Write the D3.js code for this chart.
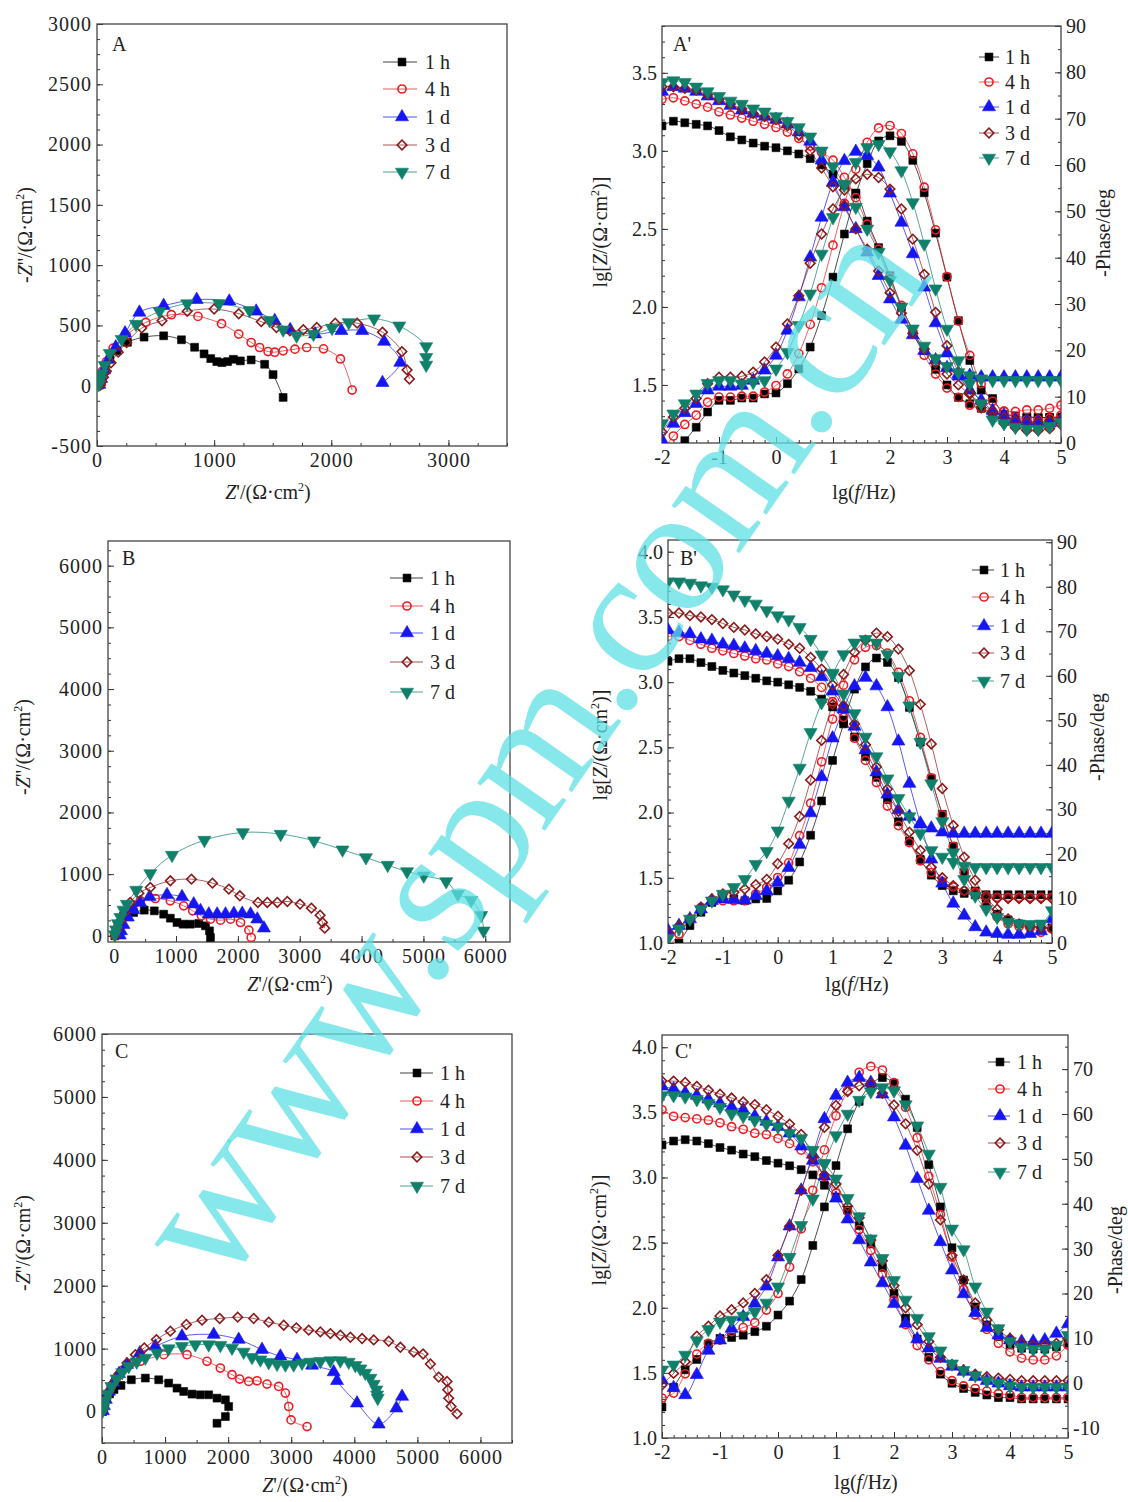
<!DOCTYPE html>
<html>
<head>
<meta charset="utf-8">
<script src="https://cdn.jsdelivr.net/npm/d3@7"></script>
<style>
  body { margin: 0; background: #fff; }
  text { font-family: "Liberation Serif", "DejaVu Serif", serif; fill: #222; }
</style>
</head>
<body>
<svg id="root" width="1128" height="1502"></svg>
<script>
// series shared by all six panels
const series = ["1 h", "4 h", "1 d", "3 d", "7 d"];
const colors = ["#000000", "#ee1c24", "#1616f2", "#8b1a1a", "#10806b"];

// log frequency grid of the Bode plots
const lgF = [-2,-1.8,-1.6,-1.4,-1.2,-1,-0.8,-0.6,-0.4,-0.2,0,0.2,0.4,0.6,0.8,1,1.2,1.4,1.6,1.8,2,2.2,2.4,2.6,2.8,3,3.2,3.4,3.6,3.8,4,4.2,4.4,4.6,4.8,5];

// Nyquist A  [Z', -Z'']
const nyqA = [
  [[20,5],[30,40],[45,90],[70,150],[110,220],[170,290],[260,360],[402,403],[569,414],[721,381],[833,319],[914,264],[971,225],[1023,200],[1066,192],[1115,200],[1164,219],[1224,206],[1316,214],[1431,178],[1503,92],[1589,-97]],
  [[15,10],[25,60],[45,120],[80,200],[138,311],[250,420],[417,525],[635,589],[862,575],[1063,514],[1210,428],[1316,358],[1388,317],[1460,283],[1517,278],[1589,289],[1690,303],[1790,317],[1934,306],[2078,222],[2178,-36]],
  [[20,10],[35,60],[60,130],[100,220],[160,320],[239,436],[362,608],[569,664],[851,714],[1129,700],[1359,617],[1517,539],[1649,464],[1862,428],[2086,456],[2264,456],[2451,367],[2589,192],[2437,25]],
  [[30,5],[40,30],[55,70],[80,120],[120,190],[181,278],[253,358],[382,478],[555,539],[770,617],[1000,636],[1210,597],[1402,531],[1532,483],[1647,456],[1761,464],[1876,483],[2034,519],[2221,519],[2437,444],[2603,283],[2647,131],[2667,56]],
  [[15,10],[25,50],[40,100],[65,170],[109,269],[210,386],[333,511],[534,617],[770,681],[1043,681],[1302,625],[1474,542],[1589,464],[1704,414],[1848,428],[2006,478],[2149,525],[2365,556],[2580,497],[2810,325],[2810,236],[2810,172]]
];

// Nyquist B
const nyqB = [
  [[10,0],[30,60],[60,150],[120,250],[200,330],[314,378],[486,416],[649,405],[800,351],[908,286],[1016,216],[1114,189],[1232,189],[1368,200],[1476,162],[1541,81],[1557,-27]],
  [[10,10],[30,80],[70,180],[130,300],[220,420],[310,500],[422,568],[665,605],[908,568],[1124,486],[1270,405],[1411,324],[1557,270],[1719,254],[1881,270],[2043,216],[2178,92],[2216,-27]],
  [[90,10],[110,80],[150,180],[220,300],[310,420],[420,540],[573,632],[854,665],[1097,632],[1286,514],[1395,405],[1530,351],[1665,351],[1800,351],[1935,362],[2070,362],[2205,351],[2314,270],[2422,124]],
  [[20,10],[50,110],[100,240],[170,380],[259,540],[400,690],[584,784],[908,892],[1249,919],[1589,854],[1854,757],[2032,649],[2324,541],[2476,541],[2638,541],[2800,557],[3005,514],[3189,449],[3330,335],[3368,216],[3405,124]],
  [[10,20],[30,100],[60,200],[100,300],[150,420],[205,514],[357,741],[584,1011],[935,1308],[1459,1551],[2081,1676],[2692,1649],[3232,1541],[3692,1395],[4070,1270],[4422,1146],[4735,1043],[5005,973],[5368,881],[5557,676],[5773,578],[5935,335],[5973,81]]
];

// Nyquist C
const nyqC = [
  [[10,0],[20,60],[40,130],[70,200],[120,280],[190,350],[301,415],[465,505],[687,532],[899,505],[1057,452],[1189,372],[1295,319],[1427,277],[1559,266],[1691,266],[1823,213],[1956,186],[2008,80],[1956,-80],[1823,-186]],
  [[10,10],[25,80],[50,170],[90,280],[150,400],[230,530],[330,660],[450,760],[608,798],[978,904],[1348,904],[1665,798],[1876,691],[2061,585],[2183,516],[2326,479],[2458,489],[2616,436],[2801,399],[2907,293],[2960,80],[2997,-133],[3251,-239]],
  [[15,10],[30,90],[60,190],[110,320],[180,460],[270,600],[396,745],[600,930],[846,1037],[1268,1197],[1771,1223],[2167,1144],[2537,984],[2828,878],[3092,824],[3330,734],[3673,628],[3726,489],[4043,133],[4387,-202],[4667,53],[4757,239]],
  [[10,10],[30,100],[60,200],[110,320],[180,450],[270,600],[396,771],[529,904],[671,1011],[862,1144],[1084,1277],[1337,1383],[1586,1452],[1866,1479],[2151,1500],[2405,1479],[2643,1420],[2881,1372],[3081,1330],[3277,1293],[3462,1266],[3621,1239],[3779,1213],[3938,1181],[4123,1160],[4308,1138],[4545,1117],[4730,1021],[4942,947],[5090,915],[5206,755],[5338,548],[5470,479],[5481,346],[5497,213],[5534,80],[5629,-37]],
  [[10,10],[25,80],[50,170],[90,280],[150,400],[230,520],[320,620],[423,718],[550,790],[687,851],[872,931],[1057,1000],[1268,1037],[1480,1064],[1691,1064],[1876,1053],[2061,1011],[2246,947],[2378,862],[2511,824],[2643,782],[2775,755],[2907,745],[3039,745],[3171,771],[3303,787],[3462,798],[3620,809],[3779,809],[3911,787],[4017,734],[4096,681],[4175,612],[4255,532],[4308,436],[4350,346],[4361,266],[4371,213]]
];

// Bode A'  lg|Z| and -phase
const modA = [
  [3.16,3.19,3.18,3.17,3.16,3.13,3.09,3.07,3.05,3.03,3.02,3.00,2.98,2.95,2.91,2.85,2.78,2.73,2.55,2.38,2.20,2.00,1.85,1.72,1.60,1.50,1.42,1.38,1.35,1.32,1.31,1.30,1.29,1.29,1.29,1.29],
  [3.33,3.34,3.32,3.30,3.28,3.25,3.23,3.21,3.19,3.17,3.15,3.12,3.08,3.03,2.99,2.94,2.83,2.70,2.53,2.37,2.19,2.01,1.84,1.69,1.57,1.48,1.42,1.37,1.35,1.33,1.33,1.33,1.34,1.34,1.35,1.37],
  [3.38,3.41,3.40,3.38,3.35,3.32,3.29,3.26,3.24,3.22,3.20,3.17,3.12,3.06,2.94,2.80,2.64,2.50,2.35,2.20,2.05,1.92,1.82,1.72,1.66,1.61,1.57,1.56,1.55,1.55,1.55,1.55,1.55,1.55,1.55,1.55],
  [3.41,3.41,3.40,3.39,3.36,3.33,3.30,3.27,3.24,3.22,3.20,3.16,3.10,3.00,2.89,2.77,2.65,2.50,2.37,2.23,2.09,1.96,1.83,1.73,1.64,1.57,1.50,1.44,1.38,1.33,1.29,1.27,1.26,1.26,1.27,1.28],
  [3.44,3.45,3.44,3.41,3.38,3.35,3.32,3.30,3.27,3.25,3.22,3.19,3.15,3.09,3.00,2.90,2.78,2.64,2.50,2.35,2.17,2.00,1.86,1.75,1.67,1.62,1.58,1.56,1.54,1.53,1.53,1.53,1.53,1.53,1.53,1.53]
];
const phA = [
  [-6,-3,0.5,3.4,6.7,9.2,9.2,9.7,9.7,10.6,10.8,12.8,16,20.7,27.5,35.8,45.1,53.7,60.3,65.2,66.3,65.1,61,54,45.3,35.8,26.4,17.8,11.4,9.6,6,4.9,5.6,5.5,5.5,5.6],
  [-2,1.5,4,6,8.8,9.9,9.9,10.1,10.1,11,12.4,14.9,19.3,25.6,33.5,42.7,51.7,59.1,64.9,68,68.5,66.8,62.4,55.2,46,35.9,26.3,18.9,12.8,9,6.9,5.6,5,5,5.3,6],
  [0.6,4.2,6.5,8.5,11.4,12.2,12.2,12.4,13.5,15.7,18.9,24.3,31.5,40.1,48.7,56.2,60.9,62.9,62,59.5,53.9,47.6,40.8,33.6,25.9,19.4,14.4,11.4,9.2,7,6,5,4.7,4.5,4.3,5],
  [2.4,5.6,7.5,9.6,12.8,14.2,14.2,14.4,15.3,17.5,20.7,25.7,31.8,38.8,45.1,50.5,54.6,57,58,57.3,54.8,50.5,44,36.4,28.2,21,15.3,10.8,7.6,5.7,4.2,3.3,2.7,2.7,3.1,4],
  [4.2,6.3,8.5,10.6,12.9,13.5,13.5,12.8,13.1,13.5,16,19.6,25.4,32.2,40.8,48.7,55.9,60.6,63.8,64.5,62.9,58.8,51.9,43,33.3,24.6,17.8,12.8,8.5,5,4.2,3.4,3,3,3.6,4.5]
];

// Bode B'
const modB = [
  [3.16,3.18,3.18,3.15,3.12,3.09,3.07,3.05,3.03,3.01,3.00,2.98,2.96,2.93,2.87,2.81,2.71,2.58,2.43,2.27,2.10,1.93,1.78,1.64,1.52,1.44,1.40,1.38,1.37,1.37,1.37,1.37,1.37,1.37,1.37,1.37],
  [3.35,3.35,3.32,3.29,3.26,3.24,3.22,3.20,3.18,3.17,3.14,3.12,3.08,3.03,2.96,2.85,2.73,2.57,2.40,2.23,2.05,1.90,1.77,1.63,1.54,1.47,1.43,1.40,1.38,1.36,1.35,1.35,1.35,1.35,1.35,1.35],
  [3.40,3.38,3.37,3.33,3.32,3.29,3.28,3.26,3.24,3.22,3.20,3.18,3.15,3.11,3.04,2.93,2.81,2.66,2.48,2.31,2.14,2.02,1.97,1.91,1.88,1.85,1.84,1.84,1.84,1.84,1.84,1.84,1.84,1.84,1.84,1.84],
  [3.53,3.53,3.51,3.50,3.48,3.45,3.42,3.40,3.37,3.35,3.33,3.29,3.26,3.19,3.10,2.98,2.82,2.68,2.52,2.35,2.18,2.01,1.85,1.71,1.58,1.50,1.44,1.40,1.38,1.36,1.34,1.34,1.34,1.34,1.34,1.34],
  [3.77,3.77,3.76,3.74,3.73,3.71,3.67,3.63,3.60,3.55,3.51,3.48,3.42,3.33,3.21,3.07,2.91,2.76,2.58,2.43,2.26,2.11,1.97,1.84,1.71,1.66,1.62,1.59,1.58,1.58,1.58,1.58,1.58,1.58,1.58,1.58]
];
const phB = [
  [-3,0,3.9,6.9,9.1,9.9,9.9,9.5,9.9,10,11.7,14.1,18.2,24.2,31.9,41,49.2,57,62,64,63,59.6,52.9,45.1,36.9,28.9,21.7,15.8,11.7,8.8,6.5,5.2,4.3,3.9,3.6,3.4],
  [-1,2,5.4,8,9.5,9.5,9.5,9.5,11,12.5,14.7,18,24.1,31.4,40.7,50.3,57.9,63.6,66.4,66.8,65.1,60.8,54.4,46.2,37.1,28.8,21.7,15.8,11.4,8.4,5.8,4.3,3.7,3.4,2.4,3.2],
  [2.8,3.9,5.4,7.6,9.5,9.9,9.7,9.6,10.6,11.7,13.6,16.9,22.1,29.2,37.3,46,52.5,57.7,59.6,57.7,53,45.3,35.8,26.9,18.8,13.4,8.9,6.2,3.6,2.4,2.1,1.9,1.9,2.1,2.7,5.4],
  [2.4,3.9,5.4,8,9.9,11,11.4,12.1,13.1,14.3,17.8,22.3,28.4,36.6,45.5,53.6,60.3,65.3,68,69.6,68.8,66,61.2,53.6,44.7,34.7,26.4,19.3,14.1,10.2,7.6,5.4,4.3,3.7,3.4,3.2],
  [1,3.2,5.4,7.6,9.5,11,12.5,14.3,17.7,20.6,25.2,31.9,39.3,47.3,54,60.3,64.8,67.4,68.2,67.4,64.8,59.9,53.3,45.1,35.8,27.3,20.3,14.3,10.6,7.6,5.8,4.7,4.3,4.2,4.3,7.3]
];

// Bode C'
const modC = [
  [3.25,3.28,3.29,3.28,3.26,3.23,3.21,3.18,3.16,3.13,3.11,3.09,3.06,3.02,2.94,2.85,2.75,2.63,2.49,2.31,2.11,1.92,1.76,1.62,1.49,1.42,1.38,1.35,1.33,1.31,1.31,1.30,1.30,1.30,1.30,1.30],
  [3.52,3.47,3.46,3.45,3.44,3.42,3.39,3.37,3.34,3.33,3.30,3.26,3.21,3.12,3.01,2.88,2.74,2.60,2.44,2.26,2.06,1.87,1.71,1.60,1.51,1.44,1.40,1.38,1.36,1.34,1.33,1.31,1.31,1.31,1.31,1.31],
  [3.70,3.68,3.65,3.63,3.60,3.57,3.54,3.52,3.47,3.43,3.39,3.34,3.24,3.13,3.01,2.84,2.68,2.52,2.35,2.19,2.03,1.88,1.76,1.69,1.61,1.55,1.51,1.47,1.44,1.42,1.40,1.39,1.39,1.39,1.39,1.39],
  [3.74,3.74,3.73,3.70,3.67,3.64,3.61,3.58,3.56,3.52,3.47,3.41,3.33,3.16,3.02,2.95,2.78,2.69,2.52,2.36,2.17,2.00,1.87,1.74,1.62,1.56,1.52,1.49,1.47,1.46,1.45,1.44,1.44,1.44,1.44,1.44],
  [3.63,3.63,3.62,3.60,3.57,3.54,3.49,3.47,3.44,3.41,3.39,3.34,3.30,3.21,3.11,2.99,2.84,2.70,2.53,2.38,2.21,2.06,1.92,1.78,1.67,1.57,1.52,1.48,1.44,1.42,1.40,1.39,1.39,1.39,1.39,1.39]
];
const phC = [
  [-5.3,-0.9,3,5.3,8.7,10,10.2,10.7,11.5,12.7,15.2,18.3,23.1,30.7,39.3,48.5,56.7,62.8,66.5,68.1,66.8,63.3,57,48.7,39.3,30.2,23,17,13,10.4,8.5,7.8,7.6,7.6,8.1,8.9],
  [-3.3,-2.2,2.1,6.5,8.9,9.6,11.5,12.4,13.5,16.3,20,25.9,34.4,43,52,59.6,65.2,69.3,70.6,69.8,67,61.5,54.7,46.1,37.6,28.1,20.9,15.2,12,8.9,7,5.6,5.2,5.2,6.1,8.5],
  [0.7,-1,-2.6,1.9,7.3,9.6,12.2,14.8,17.8,21.6,28.1,35,43,51,58.9,64.1,67,68.1,67,64.4,59.3,53,45.6,38.5,31.5,25.2,19.9,15.7,12.4,10.7,9.6,9.3,9.3,9.6,11.1,13.2],
  [-0.4,2.2,4.8,10.5,12.7,15,16.4,17.9,20,23.1,28.5,35,43,50.4,57,61.9,65,66.3,66.8,64.6,62,57.8,51.9,44.4,36.4,28.5,23,17.9,14.1,11.9,10,8.9,8.5,8.5,8.9,10],
  [3,4.1,6.3,9.5,12,13.7,14.1,15,15.9,17.9,21.5,28.1,35.2,41.1,48.9,55.2,60,63.1,65,65.9,65.2,62.1,57.4,51.1,43.7,34.4,29.8,21.5,15.9,12.2,9.3,8,7.6,7.6,8.5,10.7]
];

// ---------- drawing ----------
const svg = d3.select("#root");
const FS = 20;

function addMarker(g, i, x, y) {
  let type = d3.symbolSquare, size = 62, rot = 0;
  if (i == 1) { type = d3.symbolCircle; size = 52; }
  if (i == 2) { type = d3.symbolTriangle; size = 74; }
  if (i == 3) { type = d3.symbolSquare; size = 46; rot = 45; }
  if (i == 4) { type = d3.symbolTriangle; size = 74; rot = 180; }
  const hollow = (i == 1 || i == 3);
  g.append("path")
    .attr("d", d3.symbol().type(type).size(size)())
    .attr("transform", `translate(${x},${y}) rotate(${rot})`)
    .attr("fill", hollow ? "#fff" : colors[i])
    .attr("fill-opacity", hollow ? 0 : 1)
    .attr("stroke", colors[i])
    .attr("stroke-width", hollow ? 1.6 : 0.6);
}

function richText(g, parts, x, y, rot) {
  const t = g.append("text")
    .attr("transform", `translate(${x},${y}) rotate(${rot})`)
    .attr("text-anchor", "middle")
    .attr("font-size", FS);
  parts.forEach(p => {
    const s = t.append("tspan").text(p.t);
    if (p.i) s.attr("font-style", "italic");
    if (p.sup) s.attr("font-size", 12).attr("dy", -8);
    if (p.back) s.attr("dy", 8);
  });
}

const lblNyqX = [{t: "Z", i: 1}, {t: "'/(Ω·cm"}, {t: "2", sup: 1}, {t: ")", back: 1}];
const lblNyqY = [{t: "-"}, {t: "Z", i: 1}, {t: "''/(Ω·cm"}, {t: "2", sup: 1}, {t: ")", back: 1}];
const lblBodeX = [{t: "lg("}, {t: "f", i: 1}, {t: "/Hz)"}];
const lblBodeY = [{t: "lg["}, {t: "Z", i: 1}, {t: "/(Ω·cm"}, {t: "2", sup: 1}, {t: ")]", back: 1}];
const lblPhase = [{t: "-Phase/deg"}];

function styleAxis(sel, spacing) {
  sel.select(".domain").remove();
  sel.selectAll("line").attr("stroke", "#333").attr("stroke-width", 1);
  sel.selectAll("text").attr("font-size", FS).attr("fill", "#222")
    .attr("letter-spacing", spacing || 0)
    .attr("font-family", '"Liberation Serif", serif');
}

function axisSet(g, p, x, y, yR) {
  const fmt = d => String(d);
  const sp = p.sp || 0;
  g.append("g").attr("transform", `translate(0,${p.B})`)
    .call(d3.axisBottom(x).tickValues(p.xMinor).tickSize(-3).tickFormat("")).call(styleAxis);
  g.append("g").attr("transform", `translate(0,${p.B})`)
    .call(d3.axisBottom(x).tickValues(p.xTicks).tickSize(-6).tickPadding(7).tickFormat(fmt)).call(styleAxis, sp);
  g.append("g").attr("transform", `translate(${p.L},0)`)
    .call(d3.axisLeft(y).tickValues(p.yMinor).tickSize(-3).tickFormat("")).call(styleAxis);
  g.append("g").attr("transform", `translate(${p.L},0)`)
    .call(d3.axisLeft(y).tickValues(p.yTicks).tickSize(-6).tickPadding(5).tickFormat(p.yFmt || fmt)).call(styleAxis, sp);
  if (yR) {
    g.append("g").attr("transform", `translate(${p.R},0)`)
      .call(d3.axisRight(yR).tickValues(p.rMinor).tickSize(-3).tickFormat("")).call(styleAxis);
    g.append("g").attr("transform", `translate(${p.R},0)`)
      .call(d3.axisRight(yR).tickValues(p.rTicks).tickSize(-6).tickPadding(5).tickFormat(fmt)).call(styleAxis);
  }
  g.append("rect").attr("x", p.L).attr("y", p.T).attr("width", p.R - p.L).attr("height", p.B - p.T)
    .attr("fill", "none").attr("stroke", "#444").attr("stroke-width", 1.3);
}

function legend(g, lg) {
  series.forEach((s, i) => {
    const yy = lg.ys[i];
    g.append("line").attr("x1", lg.x0).attr("x2", lg.x1).attr("y1", yy).attr("y2", yy)
      .attr("stroke", colors[i]).attr("stroke-width", 1).attr("stroke-opacity", 0.75);
    addMarker(g, i, lg.mx, yy);
    g.append("text").attr("x", lg.tx).attr("y", yy + 7).attr("font-size", FS).text(s);
  });
}

const range = (a, b, s) => d3.range(a, b + s / 2, s).map(v => +v.toFixed(3));

const nyqPanels = [
  { id: "A", data: nyqA, L: 97, R: 507, T: 24, B: 446, xd: [0, 3500], yd: [-500, 3000], sp: 1,
    xTicks: [0, 1000, 2000, 3000], xMinor: range(0, 3500, 250), yTicks: range(-500, 3000, 500), yMinor: range(-500, 3000, 125),
    letter: [112, 51], xl: [268, 499], yl: [32, 235],
    lg: { x0: 383, x1: 417, mx: 402, tx: 425, ys: [62, 89, 117, 145, 172] } },
  { id: "B", data: nyqB, L: 108, R: 510, T: 541, B: 942, xd: [-100, 6400], yd: [-100, 6400], sp: 1,
    xTicks: range(0, 6000, 1000), xMinor: range(0, 6000, 500), yTicks: range(0, 6000, 1000), yMinor: range(0, 6250, 250),
    letter: [122, 565], xl: [290, 991], yl: [30, 747],
    lg: { x0: 390, x1: 423, mx: 407, tx: 430, ys: [578, 606, 633, 662, 692] } },
  { id: "C", data: nyqC, L: 102, R: 512, T: 1034, B: 1443, xd: [0, 6500], yd: [-500, 6000], sp: 1,
    xTicks: range(0, 6000, 1000), xMinor: range(0, 6500, 500), yTicks: range(0, 6000, 1000), yMinor: range(-500, 6000, 250),
    letter: [115, 1058], xl: [305, 1492], yl: [30, 1243],
    lg: { x0: 400, x1: 433, mx: 417, tx: 440, ys: [1073, 1101, 1129, 1157, 1186] } }
];

const bodePanels = [
  { id: "A'", mod: modA, ph: phA, L: 662, R: 1061, T: 26, B: 443, yd: [1.128, 3.80], rd: [0, 90],
    yTicks: [1.5, 2, 2.5, 3, 3.5], yMinor: range(1.2, 3.8, 0.1), rTicks: range(0, 90, 10), rMinor: range(0, 90, 5),
    letter: [673, 51], xl: [864, 499], yl: [607, 232], rl: [1110, 233],
    lg: { x0: 979, x1: 999, mx: 989, tx: 1005, ys: [57, 82, 107, 133, 158] } },
  { id: "B'", mod: modB, ph: phB, L: 668, R: 1052, T: 540, B: 943, yd: [1.0, 4.09], rd: [0, 90.5],
    yTicks: [1, 1.5, 2, 2.5, 3, 3.5, 4], yMinor: range(1, 4, 0.1), rTicks: range(0, 90, 10), rMinor: range(0, 90, 5),
    letter: [680, 565], xl: [857, 991], yl: [607, 745], rl: [1104, 737],
    lg: { x0: 972, x1: 994, mx: 984, tx: 1000, ys: [570, 597, 626, 653, 681] } },
  { id: "C'", mod: modC, ph: phC, L: 662, R: 1068, T: 1035, B: 1438, yd: [1.0, 4.094], rd: [-12.2, 77.6],
    yTicks: [1, 1.5, 2, 2.5, 3, 3.5, 4], yMinor: range(1, 4, 0.1), rTicks: range(-10, 70, 10), rMinor: range(-10, 75, 5),
    letter: [675, 1058], xl: [866, 1489], yl: [606, 1230], rl: [1122, 1250],
    lg: { x0: 988, x1: 1010, mx: 1000, tx: 1017, ys: [1062, 1089, 1116, 1143, 1172] } }
];

function clipFor(p) {
  const id = "clip" + p.id.replace("'", "p");
  svg.append("clipPath").attr("id", id).append("rect")
    .attr("x", p.L).attr("y", p.T).attr("width", p.R - p.L).attr("height", p.B - p.T);
  return "url(#" + id + ")";
}

nyqPanels.forEach(p => {
  const g = svg.append("g");
  const x = d3.scaleLinear(p.xd, [p.L, p.R]);
  const y = d3.scaleLinear(p.yd, [p.B, p.T]);
  const clip = clipFor(p);
  axisSet(g, p, x, y, null);
  const plot = g.append("g").attr("clip-path", clip);
  const line = d3.line().x(d => x(d[0])).y(d => y(d[1])).curve(d3.curveCatmullRom.alpha(0.5));
  p.data.forEach((pts, i) => {
    plot.append("path").datum(pts).attr("d", line).attr("fill", "none")
      .attr("stroke", colors[i]).attr("stroke-width", 1).attr("stroke-opacity", 0.7);
  });
  p.data.forEach((pts, i) => pts.forEach(d => addMarker(plot, i, x(d[0]), y(d[1]))));
  g.append("text").attr("x", p.letter[0]).attr("y", p.letter[1]).attr("font-size", FS).text(p.id);
  richText(g, lblNyqX, p.xl[0], p.xl[1], 0);
  richText(g, lblNyqY, p.yl[0], p.yl[1], -90);
  legend(g, p.lg);
});

bodePanels.forEach(p => {
  const g = svg.append("g");
  const x = d3.scaleLinear([-2, 5], [p.L, p.R]);
  const y = d3.scaleLinear(p.yd, [p.B, p.T]);
  const yR = d3.scaleLinear(p.rd, [p.B, p.T]);
  p.xTicks = range(-2, 5, 1);
  p.xMinor = range(-2, 5, 0.2);
  p.yFmt = d3.format(".1f");
  const clip = clipFor(p);
  axisSet(g, p, x, y, yR);
  const plot = g.append("g").attr("clip-path", clip);
  const lineL = d3.line().x((d, k) => x(lgF[k])).y(d => y(d)).curve(d3.curveCatmullRom.alpha(0.5));
  const lineR = d3.line().x((d, k) => x(lgF[k])).y(d => yR(d)).curve(d3.curveCatmullRom.alpha(0.5));
  series.forEach((s, i) => {
    plot.append("path").datum(p.mod[i]).attr("d", lineL).attr("fill", "none")
      .attr("stroke", colors[i]).attr("stroke-width", 1).attr("stroke-opacity", 0.7);
    plot.append("path").datum(p.ph[i]).attr("d", lineR).attr("fill", "none")
      .attr("stroke", colors[i]).attr("stroke-width", 1).attr("stroke-opacity", 0.7);
  });
  series.forEach((s, i) => {
    p.mod[i].forEach((v, k) => addMarker(plot, i, x(lgF[k]), y(v)));
    p.ph[i].forEach((v, k) => addMarker(plot, i, x(lgF[k]), yR(v)));
  });
  g.append("text").attr("x", p.letter[0]).attr("y", p.letter[1]).attr("font-size", FS).text(p.id);
  richText(g, lblBodeX, p.xl[0], p.xl[1], 0);
  richText(g, lblBodeY, p.yl[0], p.yl[1], -90);
  richText(g, lblPhase, p.rl[0], p.rl[1], -90);
  legend(g, p.lg);
});

// watermark across the figure
svg.append("text")
  .attr("transform", "translate(222,1292) rotate(-55)")
  .attr("font-family", '"Liberation Sans", Arial, sans-serif')
  .attr("font-size", 180)
  .attr("letter-spacing", -4)
  .style("fill", "#5fe0e6")
  .attr("fill-opacity", 0.75)
  .text("www.spm.com.cn");
</script>
</body>
</html>
